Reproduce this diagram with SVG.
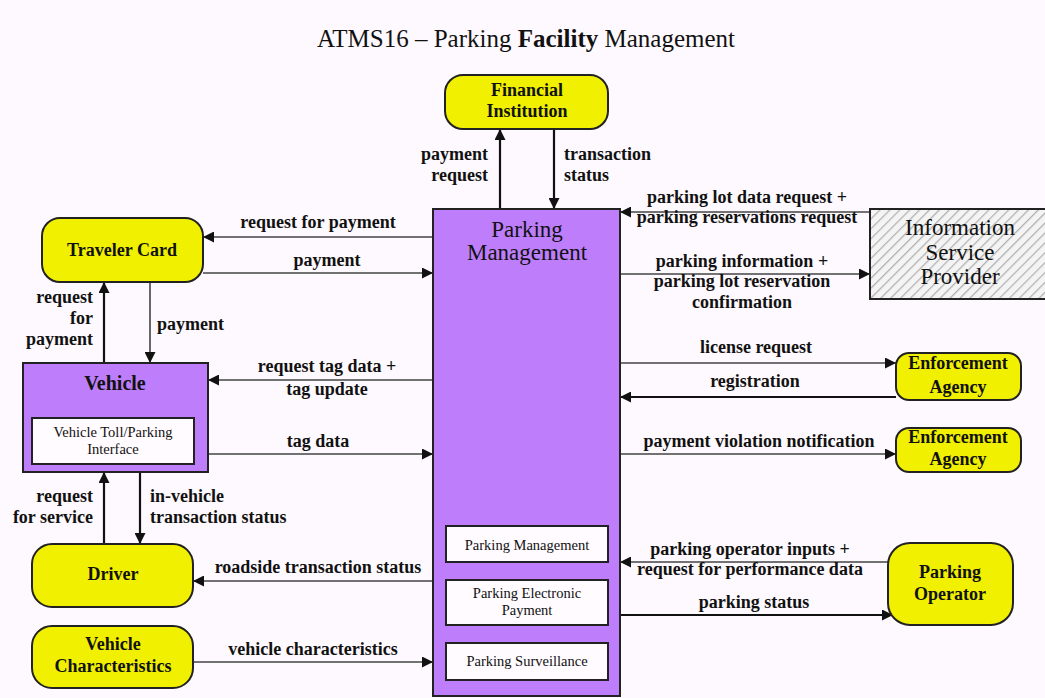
<svg xmlns="http://www.w3.org/2000/svg" width="1045" height="698" viewBox="0 0 1045 698">
<defs>
<style>
.bg{fill:#fef9fe}
.ext{fill:#f0f000;stroke:#222;stroke-width:2}
.pur{fill:#be7efc;stroke:#222;stroke-width:2}
.inner{fill:#fffbff;stroke:#222;stroke-width:2}
.isp{fill:url(#hatch);stroke:#222;stroke-width:2}
.t{font-family:"Liberation Serif","Times New Roman",serif;fill:#111}
.nb{font-size:18px;font-weight:bold;text-anchor:middle}
.lb{font-size:18px;font-weight:bold}
.mid{text-anchor:middle}
.end{text-anchor:end}
.big{font-size:23px;text-anchor:middle}
.sm{font-size:14.5px;text-anchor:middle}
.c{fill:none;stroke:#444;stroke-width:1.6;marker-end:url(#ah)}
.cd{fill:none;stroke:#111;stroke-width:2.2;marker-end:url(#ah)}
</style>
<marker id="ah" viewBox="0 0 10 10" refX="10" refY="5" markerWidth="11" markerHeight="11" markerUnits="userSpaceOnUse" orient="auto">
<path d="M0,0 L10,5 L0,10 z" fill="#111"/>
</marker>
<pattern id="hatch" width="7" height="7" patternUnits="userSpaceOnUse" patternTransform="rotate(45)">
<rect width="7" height="7" fill="#f4f4f4"/>
<line x1="0" y1="0" x2="0" y2="7" stroke="#b0b0b0" stroke-width="2.5"/>
</pattern>
</defs>
<rect class="bg" x="0" y="0" width="1045" height="698"/>
<text class="t" x="526" y="47" font-size="25" text-anchor="middle">ATMS16 – Parking <tspan font-weight="bold">Facility</tspan> Management</text>

<g id="connectors">
<line class="cd" x1="500" y1="209" x2="500" y2="129"/>
<line class="cd" x1="554" y1="129" x2="554" y2="209"/>
<line class="c" x1="433" y1="237" x2="203" y2="237"/>
<line class="c" x1="203" y1="273" x2="433" y2="273"/>
<line class="cd" x1="104" y1="363" x2="104" y2="282"/>
<line class="c" x1="150" y1="282" x2="150" y2="363"/>
<line class="c" x1="433" y1="380" x2="208" y2="380"/>
<line class="c" x1="208" y1="454" x2="433" y2="454"/>
<line class="cd" x1="104" y1="544" x2="104" y2="472"/>
<line class="cd" x1="140" y1="472" x2="140" y2="544"/>
<line class="c" x1="433" y1="581" x2="193" y2="581"/>
<line class="c" x1="193" y1="662" x2="433" y2="662"/>
<line class="c" x1="870" y1="212" x2="620" y2="212"/>
<line class="c" x1="620" y1="274" x2="870" y2="274"/>
<line class="c" x1="620" y1="363" x2="896" y2="363"/>
<line class="cd" x1="896" y1="397" x2="620" y2="397"/>
<line class="c" x1="620" y1="454" x2="896" y2="454"/>
<line class="c" x1="888" y1="562" x2="620" y2="562"/>
<line class="cd" x1="620" y1="615" x2="893" y2="615"/>

<text class="t lb end" x="488" y="160">payment</text>
<text class="t lb end" x="488" y="181">request</text>
<text class="t lb" x="564" y="160">transaction</text>
<text class="t lb" x="564" y="181">status</text>
<text class="t lb mid" x="318" y="228">request for payment</text>
<text class="t lb mid" x="327" y="266">payment</text>
<text class="t lb end" x="93" y="303">request</text>
<text class="t lb end" x="93" y="324">for</text>
<text class="t lb end" x="93" y="345">payment</text>
<text class="t lb" x="157" y="330">payment</text>
<text class="t lb mid" x="327" y="372">request tag data +</text>
<text class="t lb mid" x="327" y="395">tag update</text>
<text class="t lb mid" x="318" y="447">tag data</text>
<text class="t lb end" x="93" y="502">request</text>
<text class="t lb end" x="93" y="523">for service</text>
<text class="t lb" x="150" y="502">in-vehicle</text>
<text class="t lb" x="150" y="523">transaction status</text>
<text class="t lb mid" x="318" y="573">roadside transaction status</text>
<text class="t lb mid" x="313" y="655">vehicle characteristics</text>
<text class="t lb mid" x="747" y="203">parking lot data request +</text>
<text class="t lb mid" x="747" y="223">parking reservations request</text>
<text class="t lb mid" x="742" y="267">parking information +</text>
<text class="t lb mid" x="742" y="287">parking lot reservation</text>
<text class="t lb mid" x="742" y="308">confirmation</text>
<text class="t lb mid" x="756" y="353">license request</text>
<text class="t lb mid" x="755" y="387">registration</text>
<text class="t lb mid" x="759" y="447">payment violation notification</text>
<text class="t lb mid" x="750" y="555">parking operator inputs +</text>
<text class="t lb mid" x="750" y="575">request for performance data</text>
<text class="t lb mid" x="754" y="608">parking status</text>
</g>

<g id="financial-institution">
<rect class="ext" x="445" y="75" width="163" height="54" rx="18"/>
<text class="t nb" x="527" y="96">Financial</text>
<text class="t nb" x="527" y="117">Institution</text>
</g>

<g id="parking-management">
<rect class="pur" x="433" y="209" width="187" height="487"/>
<text class="t big" x="527" y="237">Parking</text>
<text class="t big" x="527" y="260">Management</text>
<rect class="inner" x="446" y="526" width="162" height="36"/>
<text class="t sm" x="527" y="550">Parking Management</text>
<rect class="inner" x="446" y="580" width="162" height="45"/>
<text class="t sm" x="527" y="598">Parking Electronic</text>
<text class="t sm" x="527" y="615">Payment</text>
<rect class="inner" x="446" y="643" width="162" height="37"/>
<text class="t sm" x="527" y="666">Parking Surveillance</text>
</g>

<g id="traveler-card">
<rect class="ext" x="42" y="218" width="161" height="64" rx="18"/>
<text class="t nb" x="122" y="256">Traveler Card</text>
</g>

<g id="vehicle">
<rect class="pur" x="23" y="363" width="185" height="109"/>
<text class="t" x="115" y="390" font-size="20" font-weight="bold" text-anchor="middle">Vehicle</text>
<rect class="inner" x="32" y="418" width="162" height="46"/>
<text class="t sm" x="113" y="437">Vehicle Toll/Parking</text>
<text class="t sm" x="113" y="454">Interface</text>
</g>

<g id="driver">
<rect class="ext" x="32" y="544" width="161" height="63" rx="20"/>
<text class="t nb" x="113" y="580">Driver</text>
</g>

<g id="vehicle-characteristics">
<rect class="ext" x="32" y="626" width="161" height="62" rx="20"/>
<text class="t nb" x="113" y="650">Vehicle</text>
<text class="t nb" x="113" y="672">Characteristics</text>
</g>

<g id="information-service-provider">
<rect class="isp" x="870" y="209" width="180" height="90"/>
<text class="t big" x="960" y="235">Information</text>
<text class="t big" x="960" y="260">Service</text>
<text class="t big" x="960" y="284">Provider</text>
</g>

<g id="enforcement-agency-1">
<rect class="ext" x="896" y="353" width="125" height="47" rx="13"/>
<text class="t nb" x="958" y="369">Enforcement</text>
<text class="t nb" x="958" y="393">Agency</text>
</g>

<g id="enforcement-agency-2">
<rect class="ext" x="896" y="428" width="125" height="44" rx="13"/>
<text class="t nb" x="958" y="443">Enforcement</text>
<text class="t nb" x="958" y="465">Agency</text>
</g>

<g id="parking-operator">
<rect class="ext" x="888" y="543" width="125" height="82" rx="22"/>
<text class="t nb" x="950" y="578">Parking</text>
<text class="t nb" x="950" y="600">Operator</text>
</g>
</svg>
